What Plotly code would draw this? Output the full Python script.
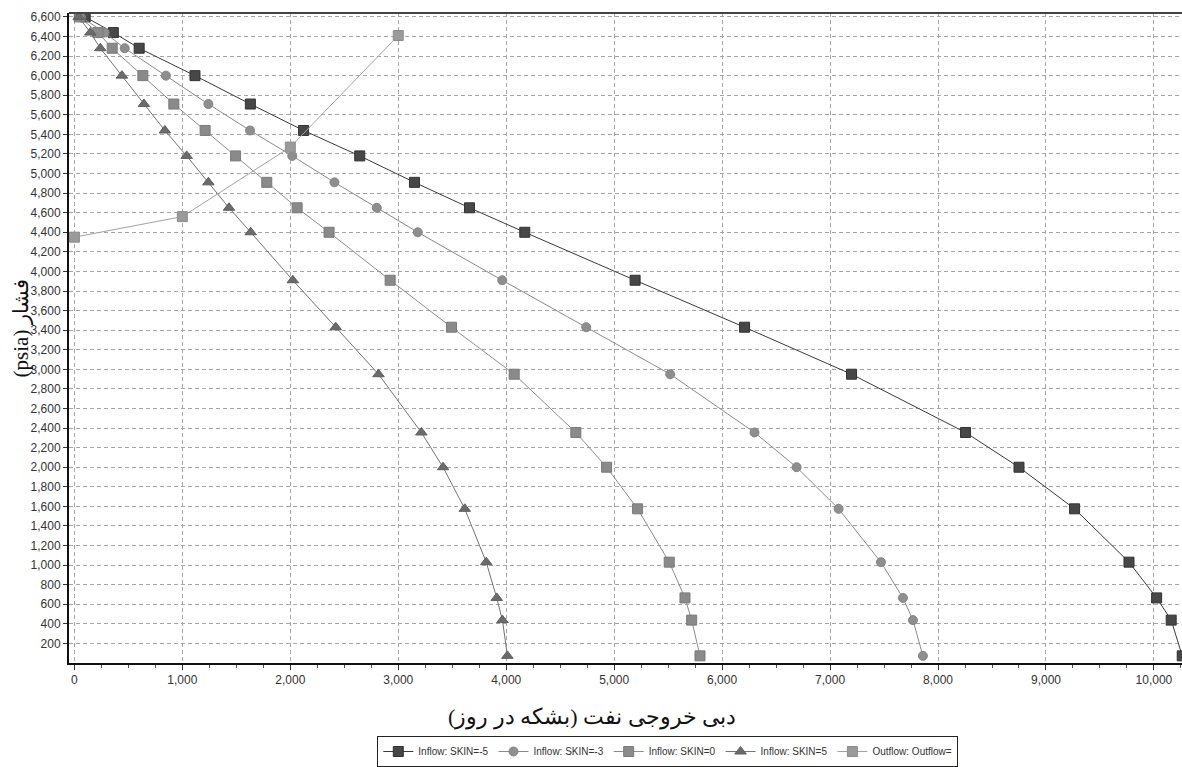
import plotly.graph_objects as go

# Bottom-hole flowing pressure (psia) shared by every inflow curve
pressure = [6600, 6440, 6280, 6000, 5710, 5440, 5180, 4910, 4650, 4400,
            3910, 3430, 2950, 2355, 2000, 1575, 1030, 665, 438, 73]

# Oil rate (bbl/day) for each skin factor
rate_skin_m5 = [100, 361, 600, 1117, 1630, 2123, 2643, 3150, 3660, 4172,
                5194, 6208, 7199, 8255, 8750, 9265, 9769, 10025, 10160, 10262]
rate_skin_m3 = [60, 280, 466, 848, 1241, 1627, 2018, 2409, 2801, 3181,
                3963, 4741, 5519, 6300, 6690, 7079, 7471, 7675, 7768, 7860]
rate_skin_0 = [45, 218, 350, 634, 921, 1211, 1493, 1782, 2063, 2359,
               2925, 3493, 4074, 4645, 4930, 5217, 5510, 5656, 5718, 5795]
rate_skin_5 = [40, 148, 240, 440, 644, 838, 1040, 1241, 1432, 1633,
               2023, 2421, 2817, 3214, 3415, 3616, 3815, 3912, 3965, 4011]

# Outflow (tubing performance) curve
outflow_rate = [0, 1000, 2000, 3000]
outflow_pressure = [4350, 4560, 5270, 6410]

series = [
    ("Inflow: SKIN=-5", rate_skin_m5, pressure, "square", 10, "#474747", "#333333", "#3a3a3a"),
    ("Inflow: SKIN=-3", rate_skin_m3, pressure, "circle", 9, "#8e8e8e", "#858585", "#8a8a8a"),
    ("Inflow: SKIN=0", rate_skin_0, pressure, "square", 10, "#8a8a8a", "#7a7a7a", "#8c8c8c"),
    ("Inflow: SKIN=5", rate_skin_5, pressure, "triangle-up", 10, "#6b6b6b", "#5e5e5e", "#737373"),
    ("Outflow: Outflow=", outflow_rate, outflow_pressure, "square", 10, "#9a9a9a", "#8c8c8c", "#a3a3a3"),
]

fig = go.Figure()
for name, xs, ys, symbol, size, fill, edge, line_color in series:
    fig.add_trace(go.Scatter(
        x=xs, y=ys, name=name, mode="lines+markers",
        line=dict(color=line_color, width=1),
        marker=dict(symbol=symbol, size=size, color=fill,
                    line=dict(color=edge, width=1)),
    ))

sans = "Liberation Sans Narrow, Arial, Liberation Sans, sans-serif"
serif = "Times New Roman, Liberation Serif, DejaVu Serif, serif"
tick_font = dict(family=sans, size=12, color="#333333")

fig.update_layout(
    width=1182, height=767,
    margin=dict(l=69, r=0, t=13, b=94),
    paper_bgcolor="white", plot_bgcolor="white",
    showlegend=True,
    legend=dict(
        orientation="h", x=0.277, xanchor="left", y=-0.113, yanchor="top",
        font=dict(family=sans, size=10, color="#333333"),
        bordercolor="#222222", borderwidth=1, bgcolor="white",
        itemwidth=30, tracegroupgap=0,
    ),
    xaxis=dict(
        range=[-50, 10260], tickvals=list(range(0, 10001, 1000)),
        tickformat=",d", tickfont=tick_font,
        showline=True, linecolor="#111111", linewidth=2,
        ticks="outside", ticklen=5, tickcolor="#333333",
        showgrid=True, gridcolor="#a6a6a6", gridwidth=1, griddash="4px,3px",
        minor=dict(dtick=250, tick0=0, ticks="outside", ticklen=3,
                   tickcolor="#555555", showgrid=False),
        zeroline=False,
    ),
    yaxis=dict(
        range=[0, 6640], tickvals=list(range(200, 6601, 200)),
        tickformat=",d", tickfont=tick_font,
        showline=True, linecolor="#111111", linewidth=2,
        ticks="outside", ticklen=4, tickcolor="#333333",
        showgrid=True, gridcolor="#a6a6a6", gridwidth=1, griddash="4px,3px",
        zeroline=False,
    ),
    shapes=[dict(type="line", xref="paper", yref="paper", x0=0, x1=1, y0=1, y1=1,
                 line=dict(color="#444444", width=2))],
    annotations=[
        dict(text="دبی خروجی نفت (بشکه در روز)\u200f", xref="paper", yref="paper",
             x=0.47, y=-0.083, xanchor="center", yanchor="middle", showarrow=False,
             font=dict(family=serif, size=22, color="#111111")),
        dict(text="(psia) فشار", xref="paper", yref="paper",
             x=-0.043, y=0.515, xanchor="center", yanchor="middle", showarrow=False,
             textangle=-90,
             font=dict(family=serif, size=21, color="#111111")),
    ],
)

fig.write_html("out.html")
